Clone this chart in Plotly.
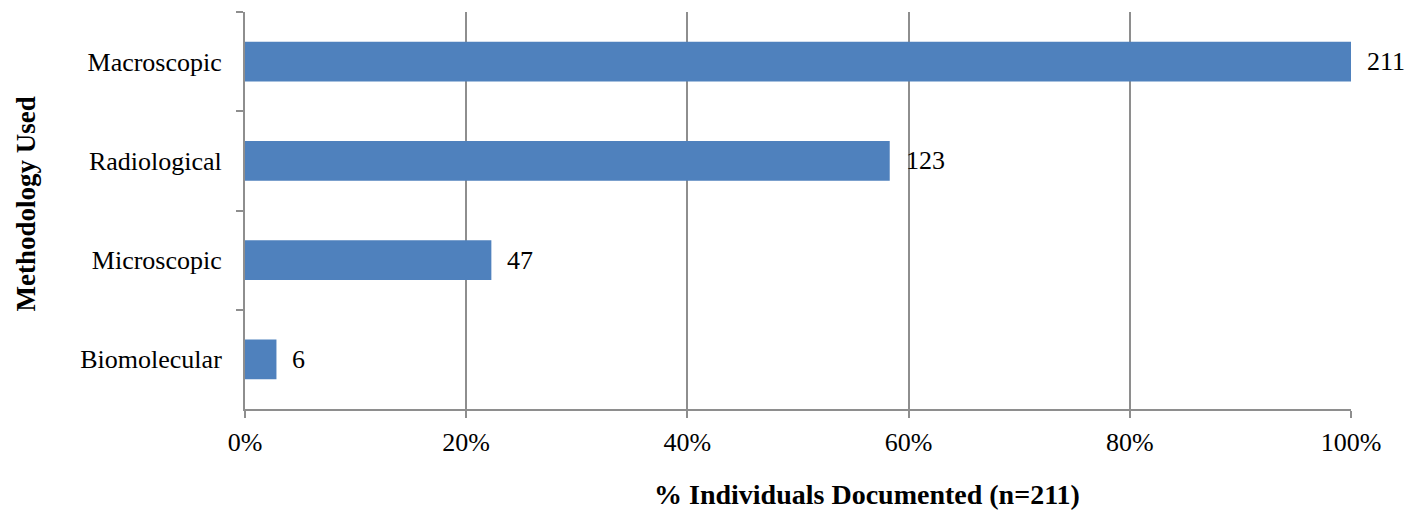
import plotly.graph_objects as go

categories = ["Macroscopic", "Radiological", "Microscopic", "Biomolecular"]
counts = [211, 123, 47, 6]
total_n = 211
pct = [c / total_n * 100 for c in counts]
x_ticks = [0, 20, 40, 60, 80, 100]
x_tick_labels = ["0%", "20%", "40%", "60%", "80%", "100%"]

FONT = "Liberation Serif"
GRID = "#8e8e8e"

fig = go.Figure()
fig.add_trace(go.Bar(
    y=categories, x=pct, orientation="h",
    marker=dict(color="#4F81BD", line=dict(width=0)),
    hoverinfo="skip",
))

for c, p, n in zip(categories, pct, counts):
    fig.add_annotation(x=p, y=c, xref="x", yref="y", text=str(n),
                       showarrow=False, xanchor="left", xshift=14,
                       font=dict(family=FONT, size=26, color="black"))

fig.add_annotation(text="<b>Methodology Used</b>", xref="paper", yref="paper",
                   x=-0.198, y=0.515, textangle=-90, showarrow=False,
                   xanchor="center", yanchor="middle",
                   font=dict(family=FONT, size=27, color="black"))
fig.add_annotation(text="<b>% Individuals Documented (n=211)</b>", xref="paper", yref="paper",
                   x=0.562, y=-0.215, showarrow=False,
                   xanchor="center", yanchor="middle",
                   font=dict(family=FONT, size=28, color="black"))

fig.update_layout(
    width=1427, height=513,
    margin=dict(l=237, r=84, t=4, b=112),
    paper_bgcolor="white", plot_bgcolor="white",
    showlegend=False, bargap=0.6,
    font=dict(family=FONT, color="black"),
)
fig.update_xaxes(
    range=[0, 100], tickvals=x_ticks, ticktext=x_tick_labels,
    showgrid=True, gridcolor=GRID, gridwidth=2,
    showline=True, linecolor=GRID, linewidth=2,
    ticks="outside", ticklen=7, tickcolor=GRID, tickwidth=2,
    tickfont=dict(family=FONT, size=26, color="black"),
    zeroline=False, automargin=False, ticklabelstandoff=2,
)
fig.update_yaxes(
    categoryorder="array", categoryarray=categories, autorange="reversed",
    showgrid=False, showline=True, linecolor=GRID, linewidth=2,
    ticks="outside", tickson="boundaries", ticklen=7, tickcolor=GRID, tickwidth=2,
    tickfont=dict(family=FONT, size=26, color="black"),
    ticklabelstandoff=16, automargin=False,
)

fig.write_html("out.html")
